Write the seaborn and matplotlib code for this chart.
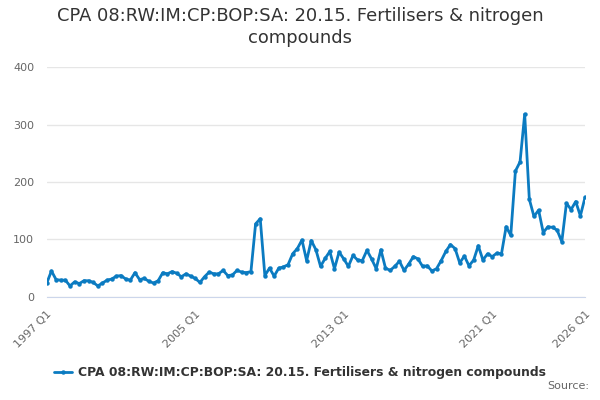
import matplotlib
matplotlib.use("Agg")
import matplotlib.pyplot as plt
import seaborn as sns
import pandas as pd

# quarterly series, 1997 Q1 .. 2026 Q1
values = [
    24, 45, 30, 29, 29, 19, 26, 23, 28, 28, 25, 19, 24, 29, 31, 36,
    37, 31, 29, 42, 30, 32, 27, 24, 28, 42, 40, 44, 41, 35, 40, 36,
    32, 25, 35, 43, 40, 40, 46, 37, 38, 46, 43, 42, 44, 127, 136, 37,
    50, 36, 50, 52, 56, 75, 84, 99, 63, 98, 82, 53, 67, 79, 49, 78,
    66, 53, 72, 64, 63, 81, 66, 49, 82, 50, 46, 53, 62, 46, 57, 70,
    66, 53, 54, 45, 49, 63, 79, 91, 84, 59, 71, 54, 64, 89, 64, 75,
    70, 76, 75, 122, 107, 219, 235, 318, 170, 140, 151, 112, 122, 121,
    116, 96, 163, 152, 166, 141, 173,
]
quarters = pd.period_range("1997Q1", "2026Q1", freq="Q")
label_years = [1997, 2005, 2013, 2021, 2026]
series_name = "CPA 08:RW:IM:CP:BOP:SA: 20.15. Fertilisers & nitrogen compounds"

df = pd.DataFrame({
    "t": quarters.year + (quarters.quarter - 1) / 4,
    "value": values,
    "series": series_name,
})

sns.set_style("white")
plt.rcParams["font.family"] = ["DejaVu Sans"]

fig = plt.figure(figsize=(6, 4), dpi=100)
ax = fig.add_axes([0.078, 0.258, 0.897, 0.574])

blue = "#0b7bc1"
sns.lineplot(data=df, x="t", y="value", hue="series", palette=[blue],
             marker="o", markersize=3.2, markeredgewidth=0, linewidth=2,
             ax=ax)

ax.set_xlim(1997, 2026)
ax.set_ylim(0, 400)
ax.set_yticks([0, 100, 200, 300, 400])
ax.yaxis.grid(True, color="#e6e6e6", linewidth=1)
ax.tick_params(axis="y", length=0, labelsize=8, labelcolor="#666666", pad=9)

xt = list(range(1997, 2026, 2)) + [2026]
ax.set_xticks(xt)
ax.set_xticklabels([f"{y} Q1" if y in label_years else "" for y in xt],
                   rotation=45, ha="right", rotation_mode="anchor")
ax.tick_params(axis="x", length=7, color="#ccd6eb", labelsize=8,
               labelcolor="#666666", pad=2)

for s in ["top", "right", "left"]:
    ax.spines[s].set_visible(False)
ax.spines["bottom"].set_color("#ccd6eb")
ax.set_xlabel("")
ax.set_ylabel("")

fig.suptitle("CPA 08:RW:IM:CP:BOP:SA: 20.15. Fertilisers & nitrogen\ncompounds",
             y=0.982, fontsize=12.9, color="#333333", linespacing=1.25)

leg = ax.legend(loc="center", frameon=False,
                prop={"size": 8.9, "weight": "bold"}, handlelength=1.5,
                handletextpad=0.5)
leg.set_bbox_to_anchor((0.5, 0.068), transform=fig.transFigure)
for t in leg.get_texts():
    t.set_color("#333333")

fig.text(0.982, 0.022, "Source:", ha="right", va="bottom", fontsize=8,
         color="#666666")

fig.savefig("out.png", dpi=100)
